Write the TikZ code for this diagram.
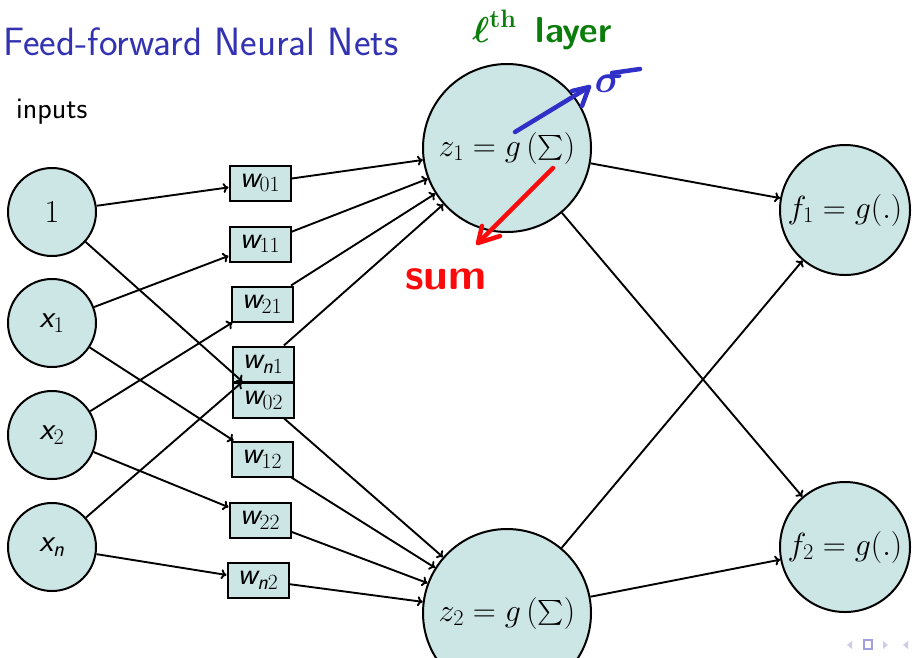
\RequirePackage{fix-cm}
\documentclass[tikz,border=0pt]{standalone}
\usepackage{amsmath}
\usetikzlibrary{arrows.meta}

\definecolor{nodefill}{RGB}{204,229,229}
\definecolor{titleblue}{RGB}{51,51,178}
\definecolor{penblue}{RGB}{48,48,200}
\definecolor{penred}{RGB}{250,10,10}
\definecolor{pengreen}{RGB}{10,125,10}
\definecolor{navlight}{RGB}{205,205,232}
\definecolor{navdark}{RGB}{160,160,225}

% sans-serif italic letters inside formulas
\newcommand{\sfv}[1]{\text{\sffamily\itshape #1}}

\tikzset{
  unit/.style={circle, draw, line width=2pt, fill=nodefill, inner sep=0pt,
               font=\fontsize{32}{36}\selectfont},
  inunit/.style={unit, minimum size=88pt},
  hidunit/.style={unit, minimum size=168pt},
  outunit/.style={unit, minimum size=130pt},
  wbox/.style={rectangle, draw, line width=2pt, fill=nodefill, inner sep=0pt,
               minimum width=61pt, minimum height=35pt,
               font=\fontsize{31}{34}\selectfont},
  link/.style={line width=1.9pt, -{To[length=5.5pt,width=10pt]}},
  pen/.style={line width=4.5pt, line cap=round, line join=round},
}

\begin{document}
\begin{tikzpicture}[x=1pt, y=-1pt]
\useasboundingbox (0,0) rectangle (912,657);

% title and caption
\node[anchor=base west, text=titleblue, inner sep=0pt,
      font=\sffamily\fontsize{39.5}{44}\selectfont] (title) at (3,55) {Feed-forward Neural Nets};
\node[anchor=base west, inner sep=0pt,
      font=\sffamily\fontsize{30}{34}\selectfont] (inputs) at (16,118) {inputs};

% input units
\node[inunit] (n1) at (52,212) {$1$};
\node[inunit] (x1) at (52,323) {$\sfv{x}_1$};
\node[inunit] (x2) at (52,435) {$\sfv{x}_2$};
\node[inunit] (xn) at (52,547) {$\sfv{x}_{\sfv{n}}$};

% hidden units
\node[hidunit] (z1) at (507,148) {$z_1 = g\left(\sum\right)$};
\node[hidunit] (z2) at (507,613) {$z_2 = g\left(\sum\right)$};

% output units
\node[outunit] (f1) at (845,210) {$f_1 = g(.)$};
\node[outunit] (f2) at (845,547) {$f_2 = g(.)$};

% weights
\node[wbox] (w01) at (260,183) {$\sfv{w}_{01}$};
\node[wbox] (w11) at (260,244) {$\sfv{w}_{11}$};
\node[wbox] (w21) at (262,304) {$\sfv{w}_{21}$};
\node[wbox] (w02) at (263,400) {$\sfv{w}_{02}$};
\node[wbox] (wn1) at (263,364) {$\sfv{w}_{\sfv{n}1}$};
\node[wbox] (w12) at (262,459) {$\sfv{w}_{12}$};
\node[wbox] (w22) at (260,520) {$\sfv{w}_{22}$};
\node[wbox] (wn2) at (258,580) {$\sfv{w}_{\sfv{n}2}$};

% input -> weight connectors
\draw[link] (n1) -- (w01);
\draw[link] (n1) -- (w02);
\draw[link] (x1) -- (w11);
\draw[link] (x1) -- (w12);
\draw[link] (x2) -- (w21);
\draw[link] (x2) -- (w22);
\draw[link] (xn) -- (wn1);
\draw[link] (xn) -- (wn2);

% weight -> hidden connectors
\foreach \w in {w01,w11,w21,wn1} \draw[link] (\w) -- (z1);
\foreach \w in {w02,w12,w22,wn2} \draw[link] (\w) -- (z2);

% hidden -> output connectors
\draw[link] (z1) -- (f1);
\draw[link] (z1) -- (f2);
\draw[link] (z2) -- (f1);
\draw[link] (z2) -- (f2);

% pen notes
\coordinate (btail) at (515,132);
\coordinate (bhead) at (589,87);
\draw[pen, penblue] (btail) -- (bhead);
\draw[pen, penblue] (572,91) -- (bhead) -- (582,106);
\node[text=penblue, inner sep=0pt, font=\fontsize{40}{44}\selectfont] (sigma) at (609,84) {$\boldsymbol{\sigma}$};
\draw[pen, penblue] (612,73) -- (640,69);

\coordinate (rtail) at (553,168);
\coordinate (rhead) at (478,243);
\draw[pen, penred] (rtail) -- (rhead);
\draw[pen, penred] (482,226) -- (rhead) -- (500,236);
\node[text=penred, inner sep=0pt, font=\sffamily\bfseries\fontsize{44}{50}\selectfont] (sumnote) at (446,279) {sum};

\node[text=pengreen, inner sep=0pt, font=\sffamily\bfseries\fontsize{36}{40}\selectfont] (layernote) at (542,30)
  {$\boldsymbol{\ell}^{\mathbf{th}}$\, layer};

% navigation marks
\fill[navlight] (852,641) -- (852,649) -- (847,645) -- cycle;
\draw[navdark, line width=2pt] (864,640) rectangle (872,649);
\fill[navlight] (883,641) -- (883,649) -- (888,645) -- cycle;
\fill[navlight] (908,641) -- (908,649) -- (903,645) -- cycle;
\end{tikzpicture}
\end{document}
